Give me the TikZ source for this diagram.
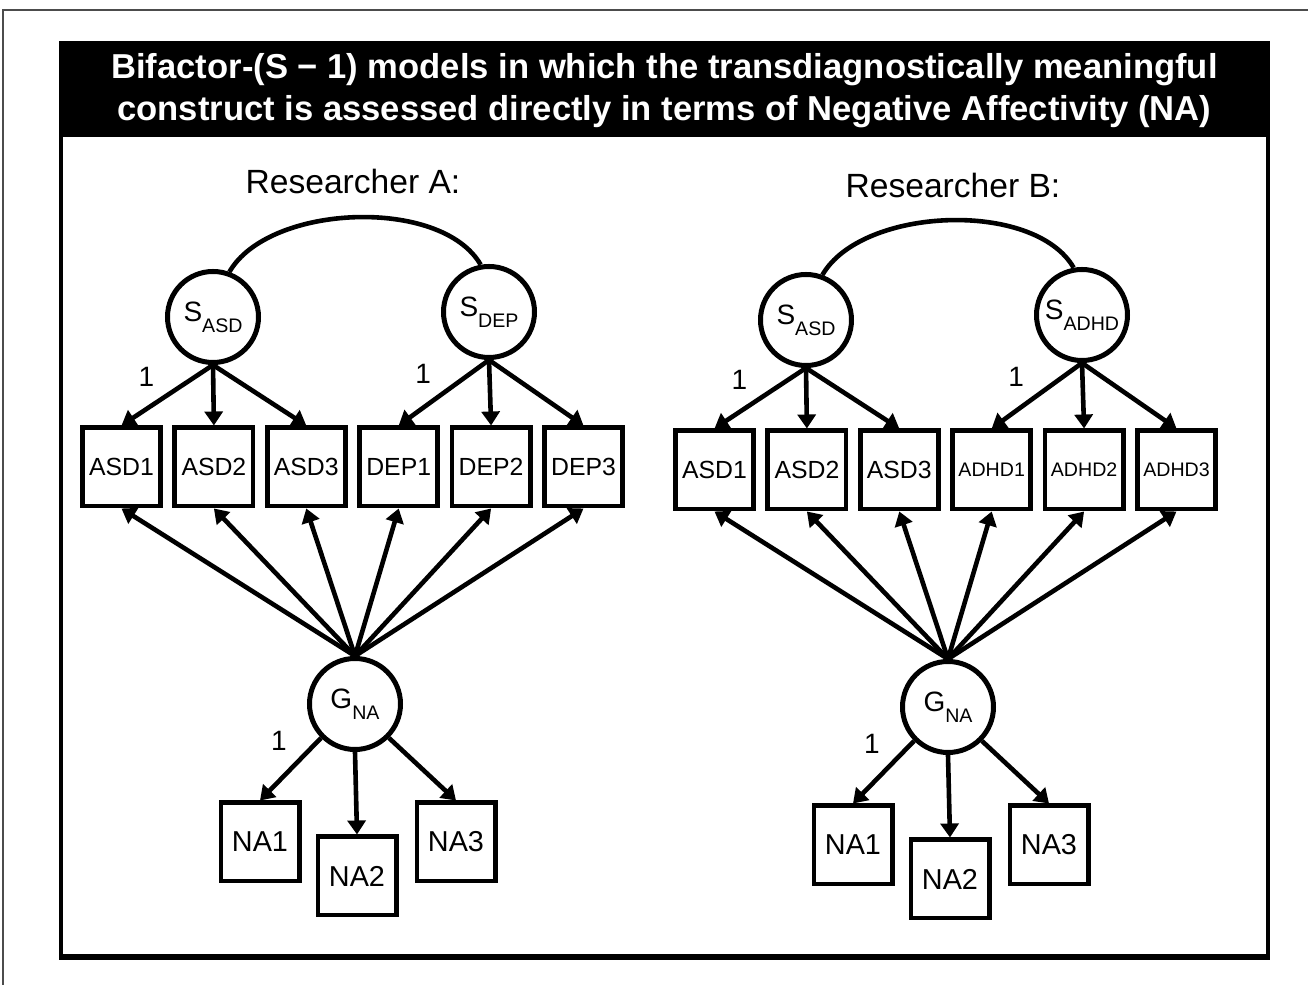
\documentclass[tikz,border=0pt]{standalone}
\usepackage{fontspec}
\setmainfont{Liberation Sans}
\usetikzlibrary{arrows.meta,positioning}
\newcommand{\subi}[1]{\raisebox{-0.75ex}{\fontsize{9.8}{10}\selectfont #1}}

\begin{document}
\begin{tikzpicture}[
            x=0.5pt, y=0.5pt,
            indicador/.style={draw, line width=2.4pt, minimum size=39.1pt, inner sep=0pt, font=\fontsize{12.4}{14}\selectfont},
            factor/.style={draw, circle, line width=2.5pt, minimum size=45.5pt, inner sep=0pt, font=\fontsize{14}{16}\selectfont},
            flecha/.style={-{Triangle[length=7pt,width=9pt]}, line width=2.3pt},
            carga/.style={font=\fontsize{14}{16}\selectfont},
            titulo/.style={text=white, align=center, font=\fontsize{17.3}{21}\selectfont\bfseries},
            investigador/.style={font=\fontsize{16.8}{19}\selectfont}
        ]
        \useasboundingbox (0,0) rectangle (1308,985);

        % Marco exterior (recortado) y marco principal con la barra del titulo
        \draw[black!70, line width=0.6pt] (3,0) -- (3,975) -- (1308,975);
        \fill (61,848) rectangle (1268,942);
        \draw[line width=2.3pt] (61,29) rectangle (1268,942);
        \draw[line width=1.4pt] (59,26.5) -- (1270,26.5);

        % Titulo en blanco sobre la barra negra
        \node[titulo] (titulo) at (664.5,894)
        {Bifactor-(S − 1) models in which the transdiagnostically meaningful\\construct is assessed directly in terms of Negative Affectivity (NA)};

        % Encabezados de cada investigador
        \node[investigador] (inva) at (353,803) {Researcher A:};
        \node[investigador] (invb) at (953,799) {Researcher B:};

        % ---------------- Investigador A ----------------
        % Fila de indicadores especificos
        \node[indicador] (asd1) at (121.5,518) {ASD1};
        \node[indicador, right=4.7pt of asd1] (asd2) {ASD2};
        \node[indicador, right=4.7pt of asd2] (asd3) {ASD3};
        \node[indicador, right=4.7pt of asd3] (dep1) {DEP1};
        \node[indicador, right=4.7pt of dep1] (dep2) {DEP2};
        \node[indicador, right=4.7pt of dep2] (dep3) {DEP3};

        % Factores especificos arriba, factor general abajo
        \node[factor] (sasd) at (213,668) {S\subi{ASD}};
        \node[factor] (sdep) at (489,673) {S\subi{DEP}};
        \node[factor] (gna) at (355,281) {G\subi{NA}};

        % Indicadores del factor general
        \node[indicador, font=\fontsize{14.4}{16}\selectfont] (na1) at (260,143) {NA1};
        \node[indicador, font=\fontsize{14.4}{16}\selectfont] (na2) at (357,109) {NA2};
        \node[indicador, font=\fontsize{14.4}{16}\selectfont] (na3) at (456,143) {NA3};

        % Correlacion entre factores especificos
        \draw[line width=2.3pt] (sasd.70) to[out=60, in=120, looseness=0.8] (sdep.100);

        % Cargas de los factores especificos
        \draw[flecha] (sasd.south) -- node[carga, midway, above left, xshift=-2pt] (unoa) {1} (asd1.north);
        \draw[flecha] (sasd.south) -- (asd2.north);
        \draw[flecha] (sasd.south) -- (asd3.north);
        \draw[flecha] (sdep.south) -- node[carga, midway, above left, xshift=-2pt] (unob) {1} (dep1.north);
        \draw[flecha] (sdep.south) -- (dep2.north);
        \draw[flecha] (sdep.south) -- (dep3.north);

        % Cargas del factor general
        \draw[flecha] (gna.north) -- (asd1.south);
        \draw[flecha] (gna.north) -- (asd2.south);
        \draw[flecha] (gna.north) -- (asd3.south);
        \draw[flecha] (gna.north) -- (dep1.south);
        \draw[flecha] (gna.north) -- (dep2.south);
        \draw[flecha] (gna.north) -- (dep3.south);
        \draw[flecha] (gna.south west) -- node[carga, pos=0.35, above left, xshift=-2pt] (unoc) {1} (na1.north);
        \draw[flecha] (gna.south) -- (na2.north);
        \draw[flecha] (gna.south east) -- (na3.north);

        % ---------------- Investigador B ----------------
        \begin{scope}[shift={(593,-3)}]
        % Fila de indicadores especificos
        \node[indicador] (asd1b) at (121.5,518) {ASD1};
        \node[indicador, right=4.7pt of asd1b] (asd2b) {ASD2};
        \node[indicador, right=4.7pt of asd2b] (asd3b) {ASD3};
        \node[indicador, right=4.7pt of asd3b, font=\fontsize{9.8}{11}\selectfont] (adhd1b) {ADHD1};
        \node[indicador, right=4.7pt of adhd1b, font=\fontsize{9.8}{11}\selectfont] (adhd2b) {ADHD2};
        \node[indicador, right=4.7pt of adhd2b, font=\fontsize{9.8}{11}\selectfont] (adhd3b) {ADHD3};

        % Factores
        \node[factor] (sasdb) at (213,668) {S\subi{ASD}};
        \node[factor] (sadhdb) at (489,673) {S\subi{ADHD}};
        \node[factor] (gnab) at (355,281) {G\subi{NA}};

        % Indicadores del factor general
        \node[indicador, font=\fontsize{14.4}{16}\selectfont] (na1b) at (260,143) {NA1};
        \node[indicador, font=\fontsize{14.4}{16}\selectfont] (na2b) at (357,109) {NA2};
        \node[indicador, font=\fontsize{14.4}{16}\selectfont] (na3b) at (456,143) {NA3};

        % Correlacion entre factores especificos
        \draw[line width=2.3pt] (sasdb.70) to[out=60, in=120, looseness=0.8] (sadhdb.100);

        % Cargas de los factores especificos
        \draw[flecha] (sasdb.south) -- node[carga, midway, above left, xshift=-2pt] (unoab) {1} (asd1b.north);
        \draw[flecha] (sasdb.south) -- (asd2b.north);
        \draw[flecha] (sasdb.south) -- (asd3b.north);
        \draw[flecha] (sadhdb.south) -- node[carga, midway, above left, xshift=-2pt] (unobb) {1} (adhd1b.north);
        \draw[flecha] (sadhdb.south) -- (adhd2b.north);
        \draw[flecha] (sadhdb.south) -- (adhd3b.north);

        % Cargas del factor general
        \draw[flecha] (gnab.north) -- (asd1b.south);
        \draw[flecha] (gnab.north) -- (asd2b.south);
        \draw[flecha] (gnab.north) -- (asd3b.south);
        \draw[flecha] (gnab.north) -- (adhd1b.south);
        \draw[flecha] (gnab.north) -- (adhd2b.south);
        \draw[flecha] (gnab.north) -- (adhd3b.south);
        \draw[flecha] (gnab.south west) -- node[carga, pos=0.35, above left, xshift=-2pt] (unocb) {1} (na1b.north);
        \draw[flecha] (gnab.south) -- (na2b.north);
        \draw[flecha] (gnab.south east) -- (na3b.north);
        \end{scope}

    \end{tikzpicture}
\end{document}
